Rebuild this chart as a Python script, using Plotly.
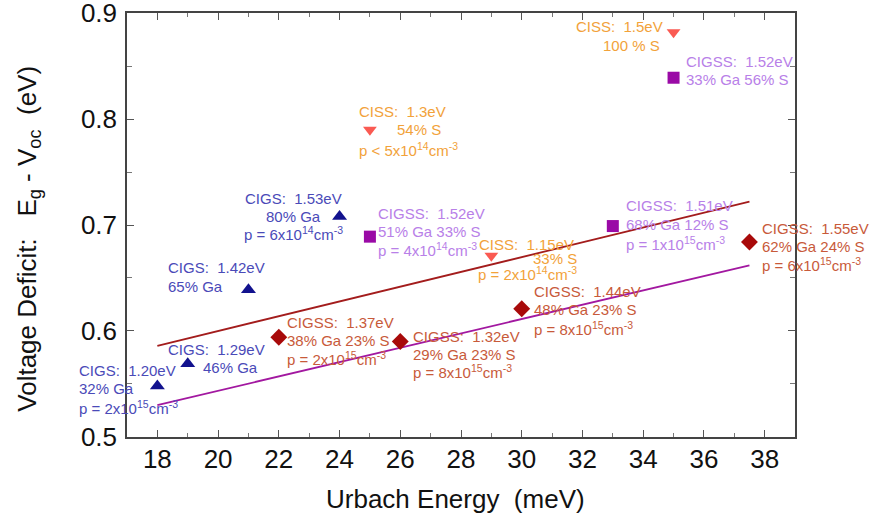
import plotly.graph_objects as go

# ---- data: Urbach energy (meV) vs. voltage deficit Eg - Voc (eV) ----
cigs_eu = [18, 19, 21, 24]
cigs_vdef = [0.548, 0.569, 0.639, 0.708]
cigs_text = [
    ["CIGS:\u00a0\u00a01.20eV", "32% Ga", "p = 2x10<sup>15</sup>cm<sup>-3</sup>"],
    ["CIGS:\u00a0\u00a01.29eV", "46% Ga"],
    ["CIGS:\u00a0\u00a01.42eV", "65% Ga"],
    ["CIGS:\u00a0\u00a01.53eV", "80% Ga", "p = 6x10<sup>14</sup>cm<sup>-3</sup>"],
]

cigss_sq_eu = [25, 33, 35]
cigss_sq_vdef = [0.689, 0.699, 0.839]
cigss_sq_text = [
    ["CIGSS:\u00a0\u00a01.52eV", "51% Ga 33% S", "p = 4x10<sup>14</sup>cm<sup>-3</sup>"],
    ["CIGSS:\u00a0\u00a01.51eV", "68% Ga 12% S", "p = 1x10<sup>15</sup>cm<sup>-3</sup>"],
    ["CIGSS:\u00a0\u00a01.52eV", "33% Ga 56% S"],
]

ciss_eu = [25, 29, 35]
ciss_vdef = [0.79, 0.671, 0.882]
ciss_text = [
    ["CISS:\u00a0\u00a01.3eV", "54% S", "p < 5x10<sup>14</sup>cm<sup>-3</sup>"],
    ["CISS:\u00a0\u00a01.15eV", "33% S", "p = 2x10<sup>14</sup>cm<sup>-3</sup>"],
    ["CISS:\u00a0\u00a01.5eV", "100 % S"],
]

cigss_dm_eu = [22, 26, 30, 37.5]
cigss_dm_vdef = [0.594, 0.59, 0.621, 0.684]
cigss_dm_text = [
    ["CIGSS:\u00a0\u00a01.37eV", "38% Ga 23% S", "p = 2x10<sup>15</sup>cm<sup>-3</sup>"],
    ["CIGSS:\u00a0\u00a01.32eV", "29% Ga 23% S", "p = 8x10<sup>15</sup>cm<sup>-3</sup>"],
    ["CIGSS:\u00a0\u00a01.44eV", "48% Ga 23% S", "p = 8x10<sup>15</sup>cm<sup>-3</sup>"],
    ["CIGSS:\u00a0\u00a01.55eV", "62% Ga 24% S", "p = 6x10<sup>15</sup>cm<sup>-3</sup>"],
]

# linear trend lines (end points)
trend_upper_eu = [18, 37.5]
trend_upper_vdef = [0.586, 0.722]
trend_lower_eu = [18, 37.5]
trend_lower_vdef = [0.530, 0.662]

x_ticks = [18, 20, 22, 24, 26, 28, 30, 32, 34, 36, 38]
y_ticks = [0.5, 0.6, 0.7, 0.8, 0.9]

# ---- label placement: per line (dx, dy) in pixels from the marker, anchor ----
cigs_pos = [
    [(-78, -16, "left"), (-78, 2, "left"), (-78, 21, "left")],
    [(-20, -14, "left"), (15, 4, "left")],
    [(-80, -22, "left"), (-80, -3, "left")],
    [(-46, -18, "center"), (-46, 0, "center"), (-46, 17, "center")],
]
cigss_sq_pos = [
    [(8, -23, "left"), (8, -5, "left"), (8, 13, "left")],
    [(13, -21, "left"), (13, -2, "left"), (13, 17, "left")],
    [(12, -16, "left"), (12, 2, "left")],
]
ciss_pos = [
    [(-11, -18, "left"), (27, 0, "left"), (-11, 20, "left")],
    [(-12, -11, "left"), (42, 3, "left"), (-13, 18, "left")],
    [(-98, -6, "left"), (-71, 13, "left")],
]
cigss_dm_pos = [
    [(8, -15, "left"), (8, 3, "left"), (8, 21, "left")],
    [(13, -5, "left"), (13, 13, "left"), (13, 30, "left")],
    [(12, -17, "left"), (12, 1, "left"), (12, 20, "left")],
    [(13, -13, "left"), (13, 5, "left"), (13, 23, "left")],
]

FONT = "Arial, 'Liberation Sans', Helvetica, sans-serif"

fig = go.Figure()

fig.add_trace(go.Scatter(x=trend_upper_eu, y=trend_upper_vdef, mode="lines",
                         line=dict(color="#a31c1c", width=1.8), showlegend=False))
fig.add_trace(go.Scatter(x=trend_lower_eu, y=trend_lower_vdef, mode="lines",
                         line=dict(color="#a218a0", width=1.8), showlegend=False))

groups = [
    (cigs_eu, cigs_vdef, cigs_text, cigs_pos, "triangle-up", 13, "#12128e", "#4a4ab8"),
    (cigss_sq_eu, cigss_sq_vdef, cigss_sq_text, cigss_sq_pos, "square", 12, "#9a0aa6", "#b880e8"),
    (ciss_eu, ciss_vdef, ciss_text, ciss_pos, "triangle-down", 12, "#fa5a52", "#f2a23a"),
    (cigss_dm_eu, cigss_dm_vdef, cigss_dm_text, cigss_dm_pos, "diamond", 13, "#a80a0a", "#c85a3a"),
]

annotations = []
for xs, ys, texts, poss, sym, size, mcol, tcol in groups:
    fig.add_trace(go.Scatter(x=xs, y=ys, mode="markers", showlegend=False,
                             marker=dict(symbol=sym, size=size, color=mcol,
                                         line=dict(width=0))))
    for xv, yv, lines, pos in zip(xs, ys, texts, poss):
        for line, (dx, dy, anchor) in zip(lines, pos):
            annotations.append(dict(
                x=xv, y=yv, xref="x", yref="y", text=line, showarrow=False,
                xanchor=anchor, yanchor="middle", xshift=dx, yshift=-dy,
                borderpad=0, borderwidth=0,
                font=dict(family=FONT, size=15, color=tcol)))

# axis titles
annotations.append(dict(
    text="Urbach Energy\u00a0\u00a0(meV)", xref="paper", yref="paper",
    x=0.4925, y=-0.146, xanchor="center", yanchor="middle", showarrow=False,
    font=dict(family=FONT, size=26, color="#111")))
annotations.append(dict(
    text="Voltage Deficit:\u00a0\u00a0\u00a0E<sub>g</sub> - V<sub>oc</sub>\u00a0\u00a0(eV)",
    xref="paper", yref="paper", x=-0.148, y=0.468, xanchor="center",
    yanchor="middle", textangle=-90, showarrow=False,
    font=dict(family=FONT, size=26, color="#111")))

axis_common = dict(
    showline=True, linecolor="#444", linewidth=1.5, mirror="ticks",
    ticks="inside", ticklen=7, tickwidth=1, tickcolor="#555",
    showgrid=False, zeroline=False, ticklabeloverflow="allow",
    automargin=False,
    tickfont=dict(family=FONT, size=26, color="#111"),
)

fig.update_layout(
    width=883, height=522,
    margin=dict(l=127, r=88, t=13, b=85),
    paper_bgcolor="white", plot_bgcolor="white",
    annotations=annotations,
    xaxis=dict(range=[17, 39], tickvals=x_ticks, ticklabelstandoff=-2,
               minor=dict(dtick=1, ticks="inside", ticklen=4, tickcolor="#777"),
               **axis_common),
    yaxis=dict(range=[0.4999, 0.9001], tickvals=y_ticks, tickformat=".1f",
               ticklabelstandoff=3,
               minor=dict(dtick=0.05, ticks="inside", ticklen=5, tickcolor="#777"),
               **axis_common),
)

fig.write_html("out.html")
